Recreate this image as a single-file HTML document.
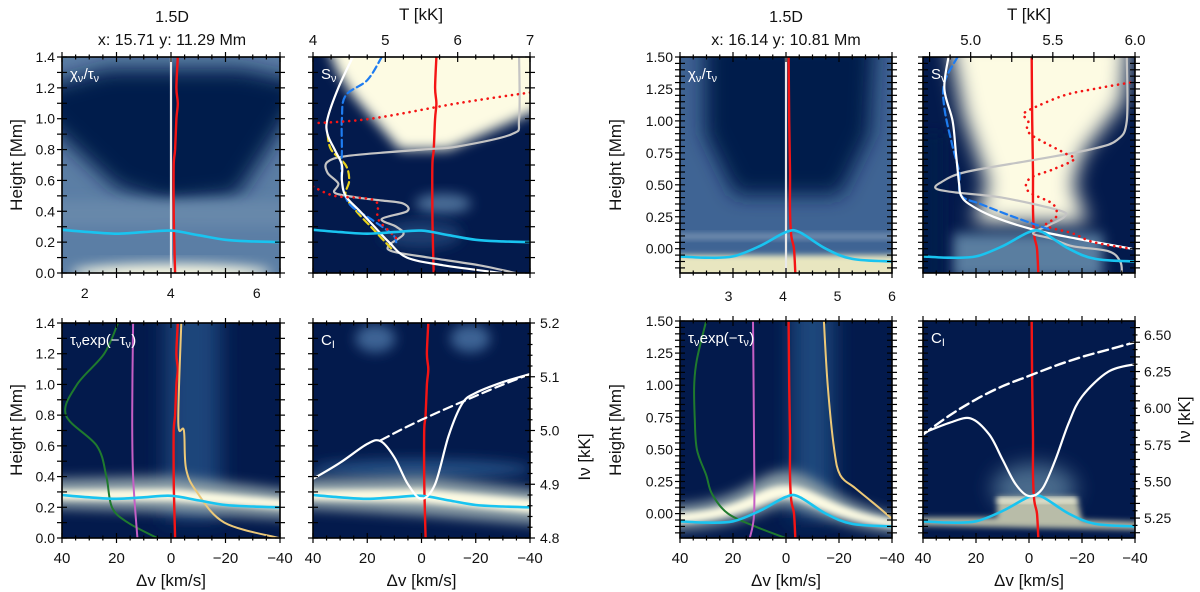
<!DOCTYPE html>
<html><head><meta charset="utf-8">
<style>
html,body{margin:0;padding:0;background:#fff;}
svg{display:block;font-family:"Liberation Sans",sans-serif;}
</style></head>
<body>
<svg id="fig" width="1200" height="592" viewBox="0 0 1200 592" xmlns="http://www.w3.org/2000/svg">
<defs>
<filter id="b6" x="-50%" y="-50%" width="200%" height="200%"><feGaussianBlur stdDeviation="6"/></filter>
<filter id="b10" x="-50%" y="-50%" width="200%" height="200%"><feGaussianBlur stdDeviation="10"/></filter>
<filter id="b3" x="-50%" y="-50%" width="200%" height="200%"><feGaussianBlur stdDeviation="3"/></filter>
</defs>
</svg>
<script>
// ---------- data (left group, x: 15.71 y: 11.29) ----------
const cyanL_dv = [40,30,20,10,0,-10,-20,-30,-40];
const cyanL_h  = [0.28,0.265,0.255,0.265,0.275,0.245,0.215,0.205,0.2];
const redL_h   = [0,0.2,0.4,0.7,0.8,1.0,1.1,1.2,1.4];
const redL_dv  = [-1.5,-1.2,-1,-1,-1.5,-2,-2.5,-2,-2.5];
const sB_white_h = [1.4,1.2,1.0,0.9,0.8,0.7,0.6,0.5,0.4,0.3,0.2,0.1,0.05,0.0];
const sB_white_T = [4.55,4.35,4.2,4.2,4.3,4.4,4.4,4.45,4.65,4.85,5.05,5.3,5.8,6.6];
const sB_blue_h = [1.4,1.25,1.15,1.0,0.8,0.6,0.45,0.35,0.25,0.2];
const sB_blue_T = [4.95,4.75,4.45,4.4,4.4,4.4,4.5,4.8,5.1,5.15];
const sB_yel_h = [0.9,0.8,0.7,0.6,0.5,0.4,0.3,0.2,0.15];
const sB_yel_T = [4.2,4.25,4.45,4.5,4.45,4.6,4.8,5.0,5.1];
const sB_gray_h = [1.4,1.0,0.9,0.82,0.8,0.76,0.72,0.65,0.58,0.52,0.49,0.47,0.45,0.4,0.35,0.3,0.25,0.18,0.14,0.1,0.05,0.0];
const sB_gray_T = [6.85,6.85,6.75,6.0,5.5,4.5,4.2,4.2,4.35,4.3,4.6,4.95,5.25,5.3,4.95,5.15,5.25,5.05,5.1,5.6,6.3,6.8];
const sB_red1_h = [1.17,1.1,1.0,0.97];
const sB_red1_T = [7.0,6.0,4.8,4.0];
const sB_red2_h = [0.56,0.5,0.47,0.35,0.25,0.2];
const sB_red2_T = [4.0,4.3,4.85,4.9,5.1,5.2];
const tC_green_h = [1.4,1.2,1.0,0.8,0.6,0.4,0.2,0.1,0.0];
const tC_green_v = [2.77,2.45,1.82,1.56,2.28,2.5,2.63,3.0,3.68];
const tC_purp_h = [1.4,0.8,0.4,0.0];
const tC_purp_v = [3.12,3.1,3.12,3.22];
const tC_yel_h = [1.4,0.75,0.7,0.45,0.3,0.1,0.0];
const tC_yel_v = [4.24,4.17,4.3,4.35,4.6,5.24,6.5];
const iD_dv    = [40,30,20,15,10,5,0,-5,-10,-15,-20,-30,-40];
const iD_white = [4.91,4.94,4.975,4.98,4.95,4.9,4.873,4.9,4.99,5.05,5.07,5.09,5.105];
const iD_dash_dv = [15,0,-25,-40];
const iD_dash    = [4.982,5.02,5.075,5.105];
// ---------- data (right group, x: 16.14 y: 10.81) ----------
const cyanR_dv = [40,30,20,10,0,-5,-15,-25,-40];
const cyanR_h  = [-0.06,-0.07,-0.06,0.02,0.13,0.13,0.0,-0.08,-0.1];
const redR_h  = [-0.19,0,0.1,0.3,0.6,1.0,1.5];
const redR_dv = [-3.5,-3,-2,-1.5,-1.5,-1.2,-1];
const sF_white_h = [1.5,1.25,1.0,0.75,0.5,0.42,0.35,0.25,0.15,0.08,0.0];
const sF_white_T = [4.865,4.84,4.89,4.91,4.93,4.94,4.99,5.14,5.38,5.64,5.98];
const sF_blue_h = [1.5,1.3,1.1,0.8,0.6,0.42,0.35,0.25,0.15];
const sF_blue_T = [4.92,4.84,4.84,4.89,4.93,4.94,5.06,5.26,5.48];
const sF_gray_h = [1.5,1.0,0.85,0.78,0.7,0.6,0.52,0.47,0.44,0.4,0.3,0.25,0.18,0.12,0.08,0.02,-0.02,-0.1,-0.19];
const sF_gray_T = [5.95,5.95,5.89,5.74,5.41,4.97,4.82,4.79,4.91,5.19,5.54,5.57,5.47,5.38,5.49,5.62,5.84,5.91,5.92];
const sF_red_h = [1.3,1.25,1.2,1.1,1.05,1.0,0.9,0.75,0.7,0.62,0.55,0.45,0.35,0.25,0.18,0.12,0.05,0.0];
const sF_red_T = [5.97,5.75,5.57,5.38,5.32,5.35,5.36,5.57,5.63,5.5,5.36,5.35,5.5,5.52,5.46,5.62,5.75,5.97];
const tG_green_h = [1.5,1.2,1.0,0.75,0.5,0.3,0.15,0.0,-0.1,-0.19];
const tG_green_v = [2.59,2.42,2.37,2.38,2.42,2.59,2.70,2.99,3.49,4.05];
const tG_purp_h = [1.5,0.5,0.0,-0.19];
const tG_purp_v = [3.45,3.47,3.47,3.39];
const tG_yel_h = [1.5,1.0,0.5,0.3,0.2,0.1,0.0,-0.04];
const tG_yel_v = [4.75,4.82,4.94,5.05,5.32,5.61,5.89,6.0];
const iH_dv    = [40,30,22,15,10,5,0,-5,-10,-15,-20,-30,-40];
const iH_white = [5.83,5.9,5.93,5.82,5.65,5.48,5.4,5.45,5.65,5.9,6.08,6.25,6.3];
const iH_dash_dv = [40,30,20,10,0,-10,-20,-30,-40];
const iH_dash    = [5.82,5.95,6.06,6.15,6.22,6.29,6.35,6.40,6.45];

const NS="http://www.w3.org/2000/svg";
const svg=document.getElementById('fig');
function el(tag,attrs,parent){const e=document.createElementNS(NS,tag);for(const k in attrs)e.setAttribute(k,attrs[k]);(parent||svg).appendChild(e);return e;}
function lin(d0,d1,r0,r1){return v=>r0+(v-d0)/(d1-d0)*(r1-r0);}
function txt(x,y,s,size,anchor,parent,name,rot){const t=el('text',{x:x,y:y,'font-size':size,'text-anchor':anchor||'middle',fill:'#111'},parent);if(rot)t.setAttribute('transform','rotate(-90 '+x+' '+y+')');t.textContent=s;return t;}
function subTxt(x,y,parts,size,parent,name,fill){ // parts: [text,isSub]
  const t=el('text',{x:x,y:y,'font-size':size,'text-anchor':'start',fill:fill||'#fff'},parent);
  parts.forEach(p=>{const s=el('tspan',{},t);if(p[1]){s.setAttribute('font-size',size*0.72);s.setAttribute('dy',3);}else{s.setAttribute('dy',0);}s.textContent=p[0];
    if(p[1]){const r=el('tspan',{dy:-3,'font-size':1},t);r.textContent=' ';}});
  return t;
}

const NAVY='#031a4c', LIGHT='#fdfbe3', MID='#5b7ea5';
let clipId=0;
function makePanel(name,x0,y0,w,h,ydom){
  const g=el('g',{});
  
  
  const id='cp'+(clipId++);
  const cp=el('clipPath',{id:id},g);el('rect',{x:x0,y:y0,width:w,height:h},cp);
  const inner=el('g',{'clip-path':'url(#'+id+')'},g);
  const sx=lin(40,-40,x0,x0+w), sy=lin(ydom[0],ydom[1],y0+h,y0);
  return {g,inner,x0,y0,w,h,sx,sy};
}
function frame(p){
  const r=el('rect',{x:p.x0,y:p.y0,width:p.w,height:p.h,fill:'none',stroke:'#000','stroke-width':1.6},p.g);
  
}
function ticksX(p,vals,majorEvery,side){
  vals.forEach((x,i)=>{const L=(i%majorEvery===0)?5:2.5;
    const y=side==='top'?p.y0:p.y0+p.h;
    const t=el('line',{x1:x,x2:x,y1:y-L,y2:y+L,stroke:'#000','stroke-width':1.2},p.g);
    });
}
function ticksY(p,vals,majorEvery,side){
  vals.forEach((y,i)=>{const L=(i%majorEvery===0)?5:2.5;
    const x=side==='left'?p.x0:p.x0+p.w;
    const t=el('line',{x1:x-L,x2:x+L,y1:y,y2:y,stroke:'#000','stroke-width':1.2},p.g);
    });
}
function range(a,b,s){const r=[];for(let v=a;v<=b+1e-9;v+=s)r.push(v);return r;}
function curve(p,xs,ys,fx,fy,style,name){
  const P=xs.map((x,i)=>[fx(x),fy(ys[i])]);
  let d='M'+P[0][0].toFixed(1)+' '+P[0][1].toFixed(1);
  for(let i=0;i<P.length-1;i++){
    const p0=P[Math.max(0,i-1)],p1=P[i],p2=P[i+1],p3=P[Math.min(P.length-1,i+2)];
    const c1=[p1[0]+(p2[0]-p0[0])/6,p1[1]+(p2[1]-p0[1])/6];
    const c2=[p2[0]-(p3[0]-p1[0])/6,p2[1]-(p3[1]-p1[1])/6];
    d+=' C'+c1.map(v=>v.toFixed(1)).join(' ')+' '+c2.map(v=>v.toFixed(1)).join(' ')+' '+p2[0].toFixed(1)+' '+p2[1].toFixed(1);
  }
  const a={d:d,fill:'none','stroke-linejoin':'round','stroke-linecap':'round'};Object.assign(a,style);
  const e=el('path',a,p.inner);
  return e;
}
function bg(p,fill){el('rect',{x:p.x0,y:p.y0,width:p.w,height:p.h,fill:fill},p.inner);}
function blob(p,tag,attrs,filt){attrs.filter='url(#'+filt+')';const e=el(tag,attrs,p.inner);return e;}
function stdTicks(p,yvals){
  ticksX(p,range(-40,40,5).map(p.sx),4,'bottom');
  ticksX(p,range(-40,40,5).map(p.sx),4,'top');
  ticksY(p,yvals,1,'left');ticksY(p,yvals,1,'right');
}
const C_CYAN={stroke:'#19c4f0','stroke-width':2.6};
const C_RED={stroke:'#f41414','stroke-width':2.4};
const DOT={stroke:'#f41414','stroke-width':2.6,'stroke-dasharray':'0.1 6','stroke-linecap':'round'};

// ========== LEFT GROUP ==========
const yL=[0,1.4];
const A=makePanel('chi-tau-panel-left',62,57,218,216,yL);
bg(A,MID);
blob(A,'polygon',{points:`${A.x0-20},${A.y0+30} ${A.x0+45},${A.y0+12} ${A.x0+180},${A.y0+12} ${A.x0+240},${A.y0+25} ${A.x0+240},${A.sy(1.15)} ${A.x0+175},${A.sy(0.5)} ${A.x0+105},${A.sy(0.45)} ${A.x0+55},${A.sy(0.55)} ${A.x0-20},${A.sy(1.0)}`,fill:NAVY},'b10');
blob(A,'rect',{x:A.x0-20,y:A.sy(0.47),width:A.w+40,height:A.sy(0.3)-A.sy(0.47),fill:'#6888aa'},'b6');
blob(A,'ellipse',{cx:A.sx(0),cy:A.sy(0.0),rx:100,ry:9,fill:LIGHT},'b6');
el('line',{x1:A.sx(0),x2:A.sx(0),y1:A.y0,y2:A.y0+A.h,stroke:'#e8e8e8','stroke-width':2.2},A.inner);
curve(A,redL_dv,redL_h,A.sx,A.sy,C_RED,'velocity-line');
curve(A,cyanL_dv,cyanL_h,A.sx,A.sy,C_CYAN,'tau-unity-line');
frame(A);stdTicks(A,range(0,1.4,0.1).map(A.sy));
subTxt(A.x0+8,A.y0+22,[['χ',0],['ν',1],['/τ',0],['ν',1]],15,A.g,'panel-label');

const B=makePanel('source-function-panel-left',313,57,217,216,yL);
const sTB=lin(4,7,B.x0,B.x0+B.w);
bg(B,NAVY);
blob(B,'polygon',{points:`${B.x0+10},${B.y0-20} ${B.x0+240},${B.y0-20} ${B.x0+240},${B.sy(1.1)} ${B.sx(-10)},${B.sy(0.8)} ${B.sx(8)},${B.sy(0.8)} ${B.x0+40},${B.sy(1.15)} ${B.x0+25},${B.sy(1.3)}`,fill:LIGHT},'b6');
blob(B,'ellipse',{cx:B.sx(-8),cy:B.sy(0.45),rx:28,ry:10,fill:'#4b6e98'},'b6');
blob(B,'ellipse',{cx:B.sx(0),cy:B.sy(0.25),rx:40,ry:14,fill:'#1c3d70'},'b6');
curve(B,redL_dv,redL_h,v=>B.sx(v-3),B.sy,C_RED,'velocity-line');
curve(B,sB_gray_T,sB_gray_h,sTB,B.sy,{stroke:'#c4c4c4','stroke-width':2.2},'gray-curve');
curve(B,sB_yel_T,sB_yel_h,sTB,B.sy,{stroke:'#e8d21a','stroke-width':2.2,'stroke-dasharray':'7 4'},'yellow-dashed-curve');
curve(B,sB_blue_T,sB_blue_h,sTB,B.sy,{stroke:'#1e7cf0','stroke-width':2.2,'stroke-dasharray':'7 4'},'blue-dashed-curve');
curve(B,sB_white_T,sB_white_h,sTB,B.sy,{stroke:'#fff','stroke-width':2.2},'white-curve');
curve(B,sB_red1_T,sB_red1_h,sTB,B.sy,DOT,'temperature-dotted');
curve(B,sB_red2_T,sB_red2_h,sTB,B.sy,DOT,'temperature-dotted');
curve(B,cyanL_dv,cyanL_h,B.sx,B.sy,C_CYAN,'tau-unity-line');
frame(B);
ticksX(B,range(4,7,0.25).map(sTB),4,'top');ticksX(B,range(-40,40,5).map(B.sx),4,'bottom');
ticksY(B,range(0,1.4,0.1).map(B.sy),1,'left');ticksY(B,range(0,1.4,0.1).map(B.sy),1,'right');
subTxt(B.x0+8,B.y0+22,[['S',0],['ν',1]],15,B.g,'panel-label');
[4,5,6,7].forEach(v=>txt(sTB(v),45,String(v),15,'middle',svg,'top-tick-label'));
txt(421,20,'T [kK]',17,'middle',svg,'top-axis-title');

const C=makePanel('contribution-tau-panel-left',62,323,218,215,yL);
const tC=lin(1.47,6.53,C.x0,C.x0+C.w);
bg(C,NAVY);
blob(C,'rect',{x:C.sx(2),y:C.y0-20,width:C.sx(-18)-C.sx(2),height:C.h,fill:'#1f447a'},'b10');
blob(C,'polygon',{points:`${C.x0-20},${C.sy(0.38)} ${C.sx(0)},${C.sy(0.4)} ${C.x0+240},${C.sy(0.3)} ${C.x0+240},${C.sy(0.12)} ${C.sx(0)},${C.sy(0.17)} ${C.x0-20},${C.sy(0.2)}`,fill:'#8ea0a8'},'b6');
blob(C,'polygon',{points:`${C.x0-20},${C.sy(0.31)} ${C.sx(0)},${C.sy(0.32)} ${C.x0+240},${C.sy(0.24)} ${C.x0+240},${C.sy(0.18)} ${C.sx(0)},${C.sy(0.24)} ${C.x0-20},${C.sy(0.25)}`,fill:LIGHT},'b3');
curve(C,tC_green_v,tC_green_h,tC,C.sy,{stroke:'#1f7a2e','stroke-width':2},'green-curve');
curve(C,tC_purp_v,tC_purp_h,tC,C.sy,{stroke:'#c55fc5','stroke-width':2},'purple-curve');
curve(C,redL_dv,redL_h,C.sx,C.sy,C_RED,'velocity-line');
curve(C,tC_yel_v,tC_yel_h,tC,C.sy,{stroke:'#ecc878','stroke-width':2},'yellow-curve');
curve(C,cyanL_dv,cyanL_h,C.sx,C.sy,C_CYAN,'tau-unity-line');
frame(C);stdTicks(C,range(0,1.4,0.1).map(C.sy));
subTxt(C.x0+8,C.y0+22,[['τ',0],['ν',1],['exp(−τ',0],['ν',1],[')',0]],15,C.g,'panel-label');
[2,4,6].forEach(v=>txt(A.x0+(v-1.47)*43,298,String(v),14,'middle',svg,'secondary-tick-label'));

const D=makePanel('intensity-panel-left',313,323,217,215,yL);
const iDs=lin(4.8,5.2,D.y0+D.h,D.y0);
bg(D,NAVY);
blob(D,'ellipse',{cx:D.sx(17),cy:D.sy(1.3),rx:20,ry:14,fill:'#3c6494'},'b6');
blob(D,'ellipse',{cx:D.sx(-18),cy:D.sy(1.3),rx:20,ry:14,fill:'#3c6494'},'b6');
blob(D,'ellipse',{cx:D.sx(0),cy:D.sy(0.45),rx:110,ry:10,fill:'#234c80'},'b6');
blob(D,'polygon',{points:`${D.x0-20},${D.sy(0.38)} ${D.sx(0)},${D.sy(0.4)} ${D.x0+240},${D.sy(0.3)} ${D.x0+240},${D.sy(0.08)} ${D.sx(0)},${D.sy(0.15)} ${D.x0-20},${D.sy(0.2)}`,fill:'#8ea0a8'},'b6');
blob(D,'polygon',{points:`${D.x0-20},${D.sy(0.31)} ${D.sx(0)},${D.sy(0.32)} ${D.x0+240},${D.sy(0.24)} ${D.x0+240},${D.sy(0.15)} ${D.sx(0)},${D.sy(0.23)} ${D.x0-20},${D.sy(0.25)}`,fill:LIGHT},'b3');
curve(D,redL_dv,redL_h,D.sx,D.sy,C_RED,'velocity-line');
curve(D,cyanL_dv,cyanL_h,D.sx,D.sy,C_CYAN,'tau-unity-line');
curve(D,iD_dash_dv,iD_dash,D.sx,iDs,{stroke:'#fff','stroke-width':2.2,'stroke-dasharray':'9 5'},'continuum-dashed');
curve(D,iD_dv,iD_white,D.sx,iDs,{stroke:'#fff','stroke-width':2.2},'intensity-profile');
frame(D);
ticksX(D,range(-40,40,5).map(D.sx),4,'bottom');ticksX(D,range(-40,40,5).map(D.sx),4,'top');
ticksY(D,range(0,1.4,0.1).map(D.sy),1,'left');ticksY(D,range(4.8,5.2,0.02).map(iDs),5,'right');
subTxt(D.x0+8,D.y0+22,[['C',0],['I',1]],15,D.g,'panel-label');
[4.8,4.9,5.0,5.1,5.2].forEach(v=>txt(D.x0+D.w+10,iDs(v)+5,v.toFixed(1),14,'start',svg,'right-tick-label'));
txt(590,457,'Iν [kK]',17,'middle',svg,'right-axis-title',true);

[A,C].forEach(p=>{range(0,1.4,0.2).forEach(v=>txt(p.x0-7,p.sy(v)+5,v.toFixed(1),14,'end',svg,'y-tick-label'));});
txt(22,165,'Height [Mm]',17,'middle',svg,'y-axis-title',true);
txt(22,430,'Height [Mm]',17,'middle',svg,'y-axis-title',true);
[C,D].forEach(p=>{[40,20,0,-20,-40].forEach(v=>txt(p.sx(v),563,v<0?'−'+(-v):String(v),15,'middle',svg,'x-tick-label'));txt(p.x0+p.w/2,586,'Δv [km/s]',17,'middle',svg,'x-axis-title');});
txt(172,22,'1.5D',16,'middle',svg,'title');
txt(172,45,'x: 15.71 y: 11.29 Mm',16,'middle',svg,'subtitle');

// ========== RIGHT GROUP ==========
const yR=[-0.19,1.5];
const E=makePanel('chi-tau-panel-right',680,57,212,216,yR);
bg(E,'#3f6494');
blob(E,'polygon',{points:`${E.x0+25},${E.y0-20} ${E.x0+195},${E.y0-20} ${E.x0+190},${E.sy(0.9)} ${E.x0+160},${E.sy(0.42)} ${E.x0+55},${E.sy(0.42)} ${E.x0+25},${E.sy(0.9)}`,fill:NAVY},'b10');
blob(E,'rect',{x:E.x0-20,y:E.sy(-0.05),width:E.w+40,height:40,fill:'#e8e6c0'},'b3');
blob(E,'rect',{x:E.x0-20,y:E.sy(0.12),width:E.w+40,height:6,fill:'#7590b0'},'b3');
el('line',{x1:E.sx(0),x2:E.sx(0),y1:E.y0,y2:E.y0+E.h,stroke:'#e8e8e8','stroke-width':2.2},E.inner);
curve(E,redR_dv,redR_h,E.sx,E.sy,C_RED,'velocity-line');
curve(E,cyanR_dv,cyanR_h,E.sx,E.sy,C_CYAN,'tau-unity-line');
frame(E);stdTicks(E,range(-0.15,1.5,0.05).map(E.sy));
subTxt(E.x0+8,E.y0+22,[['χ',0],['ν',1],['/τ',0],['ν',1]],15,E.g,'panel-label');

const F=makePanel('source-function-panel-right',923,57,212,216,yR);
const sTF=lin(4.71,6.0,F.x0,F.x0+F.w);
bg(F,NAVY);
blob(F,'polygon',{points:`${F.x0+25},${F.y0-20} ${F.x0+205},${F.y0-20} ${F.x0+200},${F.sy(1.15)} ${F.x0+160},${F.sy(0.75)} ${F.x0+150},${F.sy(0.5)} ${F.x0+165},${F.sy(0.2)} ${F.x0+50},${F.sy(0.2)} ${F.x0+65},${F.sy(0.5)} ${F.x0+40},${F.sy(1.05)}`,fill:LIGHT},'b10');
blob(F,'rect',{x:F.x0+30,y:F.sy(0.12),width:150,height:45,fill:'#5a7ea0'},'b6');
blob(F,'rect',{x:F.x0-10,y:F.sy(0.9),width:30,height:F.h,fill:NAVY},'b6');
curve(F,redR_dv,redR_h,F.sx,F.sy,C_RED,'velocity-line');
curve(F,sF_gray_T,sF_gray_h,sTF,F.sy,{stroke:'#c4c4c4','stroke-width':2.2},'gray-curve');
curve(F,sF_blue_T,sF_blue_h,sTF,F.sy,{stroke:'#1e7cf0','stroke-width':2.2,'stroke-dasharray':'7 4'},'blue-dashed-curve');
curve(F,sF_white_T,sF_white_h,sTF,F.sy,{stroke:'#fff','stroke-width':2.2},'white-curve');
curve(F,sF_red_T,sF_red_h,sTF,F.sy,DOT,'temperature-dotted');
curve(F,cyanR_dv,cyanR_h,F.sx,F.sy,C_CYAN,'tau-unity-line');
frame(F);
ticksX(F,range(4.75,6.0,0.125).map(sTF),2,'top');ticksX(F,range(-40,40,5).map(F.sx),4,'bottom');
ticksY(F,range(-0.15,1.5,0.05).map(F.sy),1,'left');ticksY(F,range(-0.15,1.5,0.05).map(F.sy),1,'right');
subTxt(F.x0+8,F.y0+22,[['S',0],['ν',1]],15,F.g,'panel-label');
[5.0,5.5,6.0].forEach(v=>txt(sTF(v),45,v.toFixed(1),15,'middle',svg,'top-tick-label'));
txt(1029,20,'T [kK]',17,'middle',svg,'top-axis-title');

const G=makePanel('contribution-tau-panel-right',680,321,212,217,yR);
const tG=lin(2.11,6.0,G.x0,G.x0+G.w);
bg(G,NAVY);
blob(G,'rect',{x:G.sx(-2),y:G.y0-20,width:G.sx(-18)-G.sx(-2),height:G.h,fill:'#1f477c'},'b10');
blob(G,'path',{d:`M${G.x0-20} ${G.sy(0.06)} C${G.sx(15)} ${G.sy(0.06)} ${G.sx(12)} ${G.sy(0.33)} ${G.sx(0)} ${G.sy(0.33)} S${G.sx(-18)} ${G.sy(0.03)} ${G.x0+240} ${G.sy(-0.04)} L${G.x0+240} ${G.sy(-0.16)} C${G.sx(-20)} ${G.sy(-0.14)} ${G.sx(-8)} ${G.sy(0.06)} ${G.sx(0)} ${G.sy(0.06)} S${G.sx(15)} ${G.sy(-0.12)} ${G.x0-20} ${G.sy(-0.13)}Z`,fill:'#8ea0a8'},'b6');
blob(G,'path',{d:`M${G.x0-20} ${G.sy(0.0)} C${G.sx(15)} ${G.sy(0.0)} ${G.sx(12)} ${G.sy(0.22)} ${G.sx(0)} ${G.sy(0.22)} S${G.sx(-18)} ${G.sy(-0.02)} ${G.x0+240} ${G.sy(-0.07)} L${G.x0+240} ${G.sy(-0.12)} C${G.sx(-20)} ${G.sy(-0.1)} ${G.sx(-8)} ${G.sy(0.12)} ${G.sx(0)} ${G.sy(0.12)} S${G.sx(15)} ${G.sy(-0.06)} ${G.x0-20} ${G.sy(-0.08)}Z`,fill:LIGHT},'b3');
curve(G,tG_green_v,tG_green_h,tG,G.sy,{stroke:'#1f7a2e','stroke-width':2},'green-curve');
curve(G,tG_purp_v,tG_purp_h,tG,G.sy,{stroke:'#c55fc5','stroke-width':2},'purple-curve');
curve(G,redR_dv,redR_h,G.sx,G.sy,C_RED,'velocity-line');
curve(G,tG_yel_v,tG_yel_h,tG,G.sy,{stroke:'#ecc878','stroke-width':2},'yellow-curve');
curve(G,cyanR_dv,cyanR_h,G.sx,G.sy,C_CYAN,'tau-unity-line');
frame(G);stdTicks(G,range(-0.15,1.5,0.05).map(G.sy));
subTxt(G.x0+8,G.y0+22,[['τ',0],['ν',1],['exp(−τ',0],['ν',1],[')',0]],15,G.g,'panel-label');
[3,4,5,6].forEach(v=>txt(tG(v),301,String(v),14,'middle',svg,'secondary-tick-label'));

const H=makePanel('intensity-panel-right',923,321,212,217,yR);
const iHs=lin(5.114,6.595,H.y0+H.h,H.y0);
bg(H,NAVY);
blob(H,'ellipse',{cx:H.sx(-2),cy:H.sy(0.2),rx:42,ry:24,fill:'#4a6a8c'},'b10');
blob(H,'path',{d:`M${H.x0-20} ${H.sy(-0.03)} L${H.sx(12)} ${H.sy(-0.03)} L${H.sx(12)} ${H.sy(0.13)} L${H.sx(-18)} ${H.sy(0.13)} L${H.sx(-20)} ${H.sy(-0.05)} L${H.x0+240} ${H.sy(-0.07)} L${H.x0+240} ${H.sy(-0.13)} L${H.x0-20} ${H.sy(-0.09)}Z`,fill:'#b8bca8'},'b3');
blob(H,'rect',{x:H.sx(12),y:H.sy(0.12),width:H.sx(-18)-H.sx(12),height:4,fill:LIGHT},'b3');
curve(H,redR_dv,redR_h,H.sx,H.sy,C_RED,'velocity-line');
curve(H,cyanR_dv,cyanR_h,H.sx,H.sy,C_CYAN,'tau-unity-line');
curve(H,iH_dash_dv,iH_dash,H.sx,iHs,{stroke:'#fff','stroke-width':2.4,'stroke-dasharray':'10 5'},'continuum-dashed');
curve(H,iH_dv,iH_white,H.sx,iHs,{stroke:'#fff','stroke-width':2.2},'intensity-profile');
frame(H);
ticksX(H,range(-40,40,5).map(H.sx),4,'bottom');ticksX(H,range(-40,40,5).map(H.sx),4,'top');
ticksY(H,range(-0.15,1.5,0.05).map(H.sy),1,'left');ticksY(H,range(5.15,6.55,0.05).map(iHs),2,'right');
subTxt(H.x0+8,H.y0+22,[['C',0],['I',1]],15,H.g,'panel-label');
[5.25,5.5,5.75,6.0,6.25,6.5].forEach(v=>txt(H.x0+H.w+9,iHs(v)+5,v.toFixed(2),14,'start',svg,'right-tick-label'));
txt(1190,420,'Iν [kK]',17,'middle',svg,'right-axis-title',true);

[E,G].forEach(p=>{[0,0.25,0.5,0.75,1.0,1.25,1.5].forEach(v=>txt(p.x0-7,p.sy(v)+5,v.toFixed(2),14,'end',svg,'y-tick-label'));});
txt(621,165,'Height [Mm]',17,'middle',svg,'y-axis-title',true);
txt(621,430,'Height [Mm]',17,'middle',svg,'y-axis-title',true);
[G,H].forEach(p=>{[40,20,0,-20,-40].forEach(v=>txt(p.sx(v),563,v<0?'−'+(-v):String(v),15,'middle',svg,'x-tick-label'));txt(p.x0+p.w/2,586,'Δv [km/s]',17,'middle',svg,'x-axis-title');});
txt(786,22,'1.5D',16,'middle',svg,'title');
txt(786,45,'x: 16.14 y: 10.81 Mm',16,'middle',svg,'subtitle');
</script>
</body></html>
